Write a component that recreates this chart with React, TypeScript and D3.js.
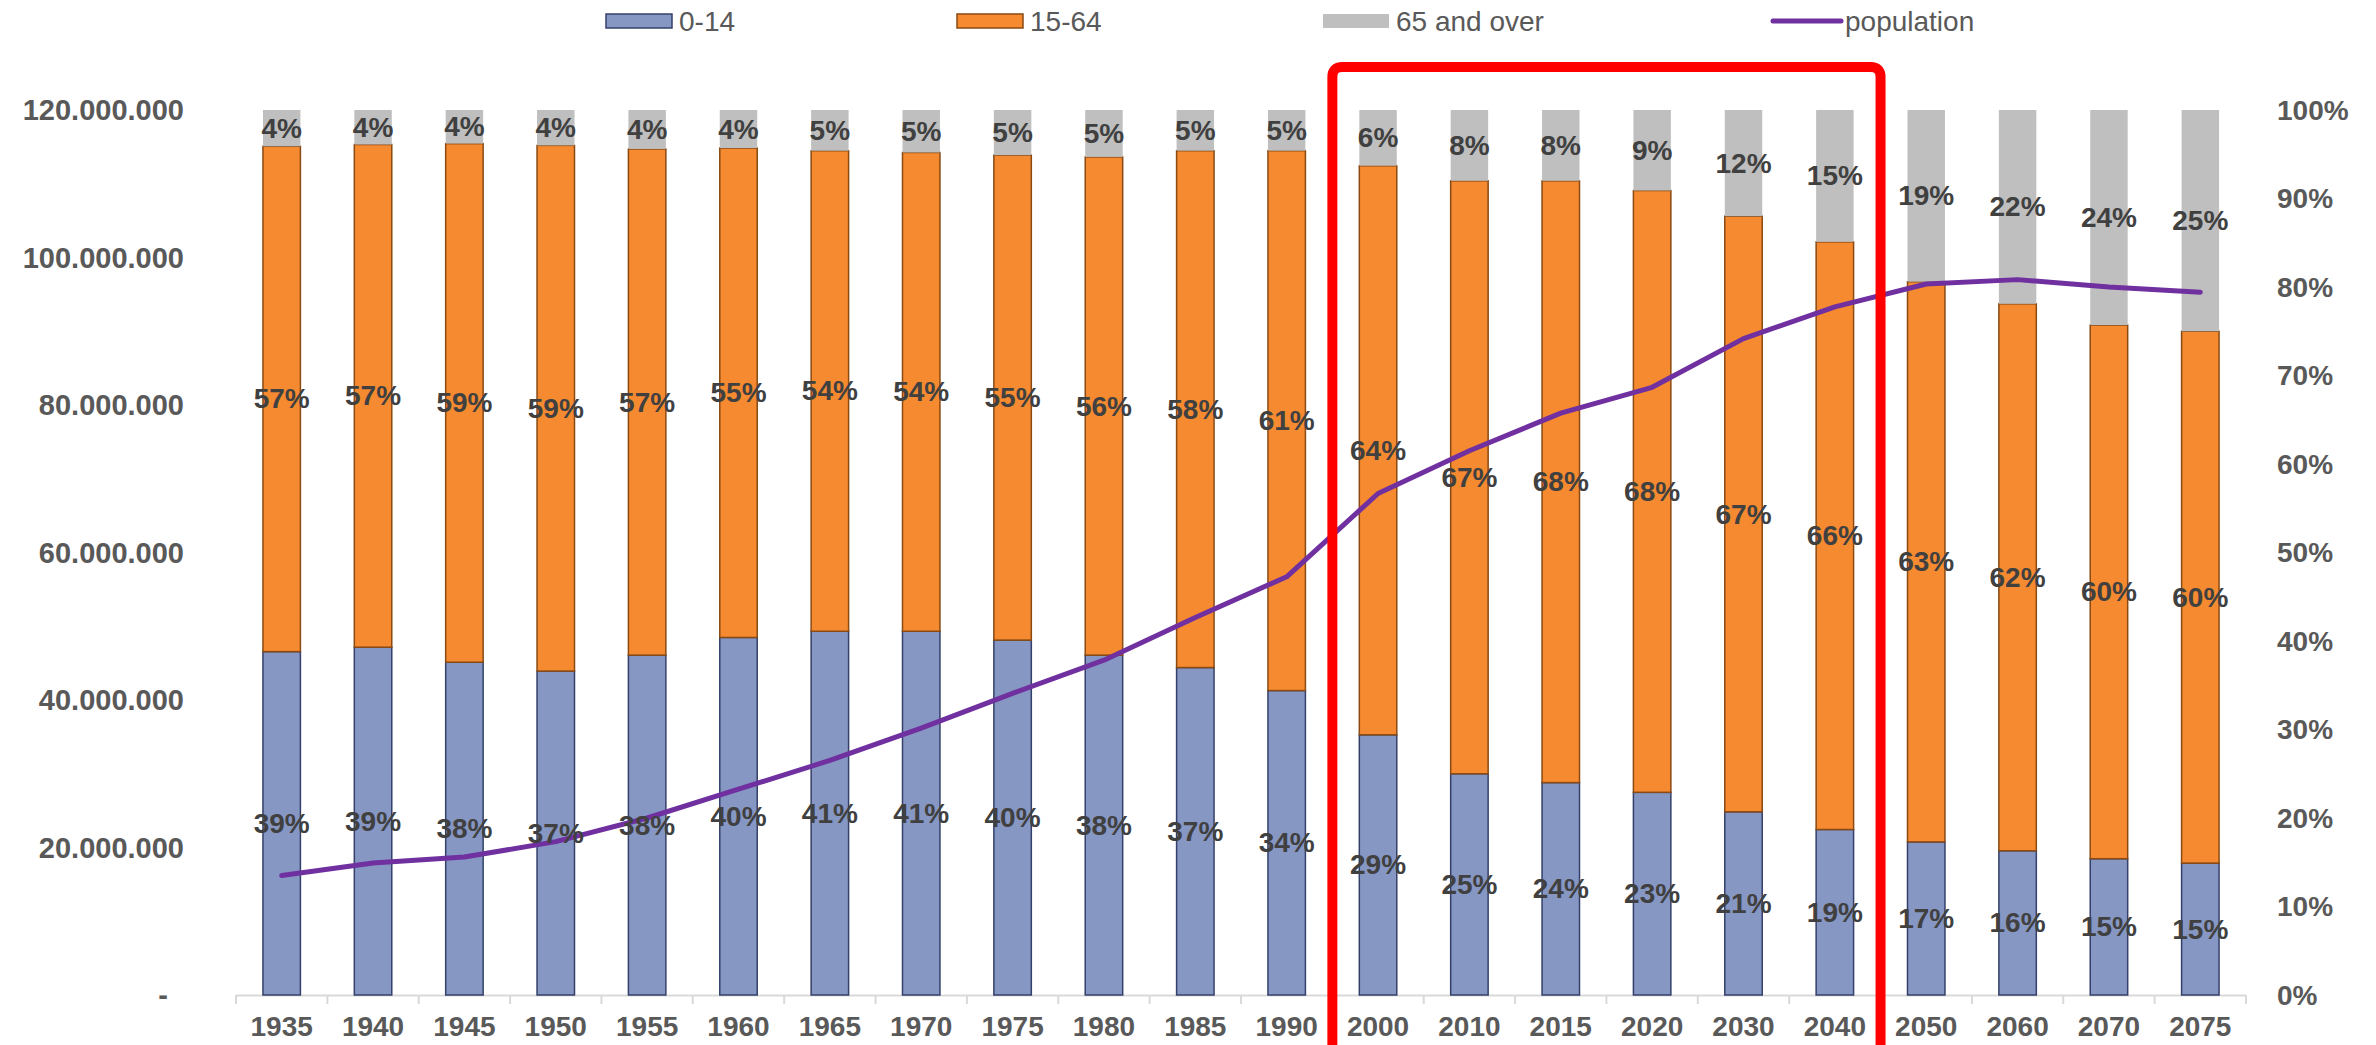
import React from "react";
import * as d3 from "d3";

const years = ["1935","1940","1945","1950","1955","1960","1965","1970","1975","1980","1985","1990","2000","2010","2015","2020","2030","2040","2050","2060","2070","2075"];
const share0to14 = [38.8,39.3,37.6,36.6,38.4,40.4,41.1,41.1,40.1,38.4,37.0,34.4,29.4,25.0,24.0,22.9,20.7,18.7,17.3,16.3,15.4,14.9];
const share15to64 = [57.1,56.8,58.6,59.4,57.2,55.3,54.3,54.1,54.8,56.3,58.4,61.0,64.3,67.0,68.0,68.0,67.3,66.4,63.3,61.8,60.3,60.1];
const share65plus = [4.1,3.9,3.8,4.0,4.4,4.3,4.6,4.8,5.1,5.3,4.6,4.6,6.3,8.0,8.0,9.1,12.0,14.9,19.4,21.9,24.3,25.0];
const population = [16.2e6,17.9e6,18.7e6,20.8e6,24.0e6,27.9e6,31.8e6,36.2e6,40.9e6,45.4e6,51.2e6,56.7e6,68.0e6,73.8e6,78.9e6,82.4e6,89.0e6,93.3e6,96.4e6,97.0e6,96.0e6,95.3e6];
const leftTicks = [0,20e6,40e6,60e6,80e6,100e6,120e6];
const rightTicks = [0,10,20,30,40,50,60,70,80,90,100];
const highlightFrom = "2000";
const highlightTo = "2040";

const W = 2376, H = 1045;
const COL_BLUE = "#8797C4", STROKE_BLUE = "#34406A";
const COL_ORANGE = "#F58A30", STROKE_ORANGE = "#8A4A12";
const COL_GRAY = "#BFBFBF";
const COL_LINE = "#7030A0";
const FONT = "'Liberation Sans', Arial, sans-serif";

export default function App() {
  const x = d3.scaleBand<string>().domain(years).range([236, 2246]).paddingInner(0.59).paddingOuter(0.295);
  const yPct = d3.scaleLinear().domain([0, 100]).range([995, 110]);
  const yPop = d3.scaleLinear().domain([0, 120e6]).range([995, 110]);
  const bw = x.bandwidth();
  const step = x.step();
  const gap = (step - bw) / 2;
  const loc = d3.formatLocale({ decimal: ",", thousands: ".", grouping: [3], currency: ["", ""] });
  const fmt = loc.format(",");

  const rows = years.map((yr, i) => {
    const a = share0to14[i], b = share15to64[i], c = share65plus[i];
    return { yr, segs: [
      { y0: 0, y1: a, fill: COL_BLUE, stroke: STROKE_BLUE, label: Math.round(a) },
      { y0: a, y1: a + b, fill: COL_ORANGE, stroke: STROKE_ORANGE, label: Math.round(b) },
      { y0: a + b, y1: a + b + c, fill: COL_GRAY, stroke: "none", label: Math.round(c) },
    ] };
  });

  const line = d3.line<number>()
    .x((_, i) => (x(years[i]) as number) + bw / 2)
    .y((d) => yPop(d));

  const rx0 = (x(highlightFrom) as number) - gap;
  const rx1 = (x(highlightTo) as number) + bw + gap;
  const ry = 67, r = 10;
  const redPath = `M${rx0},${H + 20} L${rx0},${ry + r} Q${rx0},${ry} ${rx0 + r},${ry} L${rx1 - r},${ry} Q${rx1},${ry} ${rx1},${ry + r} L${rx1},${H + 20}`;

  const boundaries = d3.range(years.length + 1).map((i) => 236 + i * step);

  const legend = [
    { type: "rect", fill: COL_BLUE, stroke: STROKE_BLUE, x: 606, label: "0-14" },
    { type: "rect", fill: COL_ORANGE, stroke: STROKE_ORANGE, x: 957, label: "15-64" },
    { type: "rect", fill: COL_GRAY, stroke: "none", x: 1323, label: "65 and over" },
    { type: "line", fill: COL_LINE, stroke: COL_LINE, x: 1773, label: "population" },
  ];

  return (
    <svg width={W} height={H} style={{ position: "absolute", left: 0, top: 0, background: "#fff" }} fontFamily={FONT}>
      {legend.map((l) => (
        <g key={l.label}>
          {l.type === "rect" ? (
            <rect x={l.x} y={14} width={66} height={14} fill={l.fill} stroke={l.stroke} strokeWidth={1.5} />
          ) : (
            <line x1={l.x} x2={l.x + 68} y1={21} y2={21} stroke={l.fill} strokeWidth={5} strokeLinecap="round" />
          )}
          <text x={l.type === "rect" ? l.x + 73 : l.x + 72} y={21} dominantBaseline="central" fontSize={28} fill="#595959">{l.label}</text>
        </g>
      ))}

      <line x1={236} x2={2246} y1={995.5} y2={995.5} stroke="#D9D9D9" strokeWidth={2} />
      {boundaries.map((bx, i) => (
        <line key={i} x1={bx} x2={bx} y1={995} y2={1004} stroke="#D9D9D9" strokeWidth={2} />
      ))}

      {rows.map((row) => (
        <g key={row.yr}>
          {row.segs.map((s, j) => (
            <rect key={j} x={x(row.yr)} y={yPct(s.y1)} width={bw} height={yPct(s.y0) - yPct(s.y1)}
              fill={s.fill} stroke={s.stroke} strokeWidth={s.stroke === "none" ? 0 : 1.5} />
          ))}
        </g>
      ))}

      <path d={line(population) || ""} fill="none" stroke={COL_LINE} strokeWidth={5} strokeLinejoin="round" strokeLinecap="round" />

      {rows.map((row) => (
        <g key={"l" + row.yr}>
          {row.segs.map((s, j) => (
            <text key={j} x={(x(row.yr) as number) + bw / 2} y={(yPct(s.y0) + yPct(s.y1)) / 2}
              textAnchor="middle" dominantBaseline="central" fontSize={28} fontWeight="bold" fill="#404040">
              {s.label}%
            </text>
          ))}
        </g>
      ))}

      {leftTicks.map((t) => (
        <text key={t} x={t === 0 ? 168 : 184} y={yPop(t)} textAnchor="end" dominantBaseline="central" fontSize={29} fontWeight="bold" fill="#595959">
          {t === 0 ? "-" : fmt(t)}
        </text>
      ))}
      {rightTicks.map((t) => (
        <text key={t} x={2277} y={yPct(t)} textAnchor="start" dominantBaseline="central" fontSize={28} fontWeight="bold" fill="#595959">
          {t}%
        </text>
      ))}
      {years.map((yr) => (
        <text key={yr} x={(x(yr) as number) + bw / 2} y={1026} textAnchor="middle" dominantBaseline="central" fontSize={28} fontWeight="bold" fill="#595959">
          {yr}
        </text>
      ))}

      <path d={redPath} fill="none" stroke="#FF0000" strokeWidth={10} />
    </svg>
  );
}
